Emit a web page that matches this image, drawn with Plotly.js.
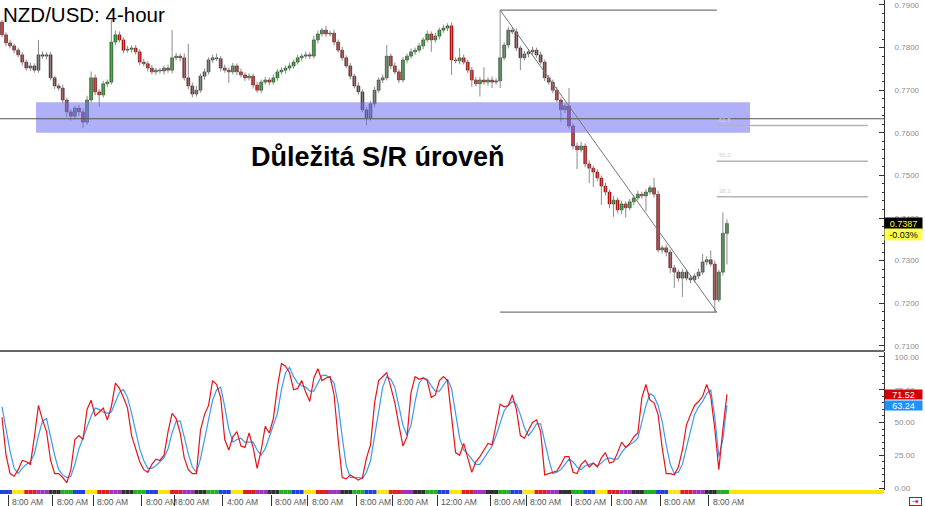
<!DOCTYPE html>
<html><head><meta charset="utf-8">
<script src="https://cdn.plot.ly/plotly-3.0.1.min.js"></script>
<style>html,body{margin:0;padding:0;background:#fff;}#chart{width:925px;height:506px;}</style>
</head><body><div id="chart"></div>
<script>
// ---------------- DATA ----------------
const titleText = 'NZD/USD: 4-hour';
const noteText = 'Důležitá S/R úroveň';
const firstOpen = 0.7860;
const closes = [
0.7830,0.7811,0.7804,0.7794,0.7783,0.7766,0.7752,0.7757,0.7747,0.7783,
0.7780,0.7783,0.7729,0.7710,0.7705,0.7677,0.7649,0.7639,0.7658,0.7649,
0.7625,0.7677,0.7729,0.7696,0.7689,0.7715,0.7719,0.7813,0.7830,0.7818,
0.7794,0.7796,0.7799,0.7790,0.7766,0.7762,0.7752,0.7743,0.7747,0.7745,
0.7752,0.7747,0.7776,0.7780,0.7776,0.7729,0.7710,0.7691,0.7700,0.7733,
0.7743,0.7771,0.7776,0.7774,0.7752,0.7747,0.7743,0.7757,0.7743,0.7736,
0.7729,0.7733,0.7712,0.7700,0.7719,0.7724,0.7719,0.7729,0.7743,0.7747,
0.7752,0.7757,0.7766,0.7776,0.7780,0.7783,0.7780,0.7818,0.7832,0.7841,
0.7832,0.7834,0.7813,0.7794,0.7776,0.7757,0.7733,0.7710,0.7696,0.7654,
0.7635,0.7668,0.7700,0.7724,0.7729,0.7780,0.7757,0.7743,0.7724,0.7771,
0.7780,0.7790,0.7794,0.7804,0.7818,0.7832,0.7818,0.7827,0.7841,0.7846,
0.7851,0.7771,0.7769,0.7776,0.7766,0.7747,0.7724,0.7715,0.7724,0.7719,
0.7724,0.7719,0.7722,0.7776,0.7806,0.7841,0.7837,0.7799,0.7776,0.7785,
0.7790,0.7794,0.7783,0.7766,0.7729,0.7719,0.7700,0.7677,0.7654,0.7663,
0.7616,0.7569,0.7560,0.7569,0.7527,0.7517,0.7508,0.7494,0.7475,0.7461,
0.7433,0.7442,0.7419,0.7433,0.7424,0.7438,0.7447,0.7456,0.7452,0.7461,
0.7471,0.7456,0.7325,0.7330,0.7320,0.7283,0.7273,0.7259,0.7273,0.7259,
0.7255,0.7264,0.7273,0.7297,0.7302,0.7292,0.7208,0.7273,0.7364,0.7387
];
// wick lengths in pips above the body top / below the body bottom
const upWickPips = [
5,6,8,5,6,7,6,8,6,35,
8,6,7,5,6,8,6,7,6,8,
8,10,15,8,6,7,6,52,10,8,
6,8,6,7,6,8,6,7,6,5,
6,8,65,8,6,10,80,8,10,6,
8,6,7,10,6,8,6,7,6,8,
6,7,6,8,6,7,6,8,6,7,
6,8,6,7,6,8,6,10,8,6,
10,6,8,6,8,6,7,6,8,6,
7,6,8,6,8,26,6,8,6,7,
6,8,6,7,6,8,6,8,6,8,
6,8,6,23,8,6,8,6,7,30,
6,8,6,112,6,8,6,8,6,8,
6,8,6,8,6,7,6,8,6,6,
42,6,8,10,6,8,6,7,6,8,
6,10,6,8,6,7,6,8,6,7,
6,23,8,6,8,6,7,6,8,6,
7,6,8,19,8,22,8,6,49,10
];
const downWickPips = [
6,8,6,7,6,8,6,7,6,6,
6,8,6,7,6,8,12,10,8,10,
14,6,6,8,28,6,8,6,8,6,
7,6,8,6,7,6,8,6,7,6,
8,6,7,6,8,6,8,8,6,6,
8,6,7,6,8,6,26,6,8,6,
7,6,8,6,7,6,8,6,7,6,
8,6,7,6,8,6,7,6,8,6,
7,6,8,6,7,6,8,6,7,6,
17,6,8,6,7,6,8,6,7,6,
8,6,7,6,8,6,28,6,8,6,
7,35,6,8,6,7,16,6,30,6,
8,14,6,17,6,8,6,7,29,6,
8,6,7,6,8,6,7,6,28,8,
6,8,45,6,8,35,35,8,44,8,
10,30,8,10,23,6,8,6,7,36,
6,8,6,8,10,12,37,8,44,6,
8,6,7,6,8,6,29,6,8,73
];
const stochMain = [
54,25,11,9,14,21,20,18,39,63,
52,43,21,11,11,8,4,14,37,40,
37,60,67,55,58,61,52,62,80,76,
69,61,40,29,20,14,12,18,22,21,
25,43,57,53,42,23,14,11,11,44,
56,63,82,79,69,37,29,39,43,32,
31,42,31,15,29,47,42,53,77,95,
93,88,75,76,82,73,66,84,91,82,
84,85,71,37,8,7,10,8,6,8,
23,33,65,82,85,88,77,65,48,32,
39,73,85,83,84,82,69,71,82,85,
82,52,27,25,34,23,12,20,24,29,
34,33,48,64,62,63,71,60,40,38,
44,50,52,43,10,11,12,13,18,24,
24,12,11,18,21,16,19,16,23,27,
19,20,27,35,31,34,39,42,69,79,
67,65,56,31,11,11,10,16,29,48,
56,63,66,70,79,70,45,14,45,71.52
];
const stochSignal = [
62,45,28,15,11,15,18,20,26,40,
51,53,39,25,14,10,8,9,18,30,
38,46,55,61,60,58,57,58,65,73,
75,69,57,43,30,21,15,15,17,20,
23,30,42,51,51,39,26,16,12,22,
37,54,67,75,77,62,45,35,37,38,
35,35,35,29,25,30,39,47,57,75,
88,92,85,80,78,77,74,74,80,86,
86,84,80,64,39,17,8,8,8,7,
12,21,40,60,77,85,83,77,63,48,
40,48,66,80,84,83,78,74,74,79,
83,76,57,38,29,26,22,18,18,23,
28,32,40,50,59,63,66,64,56,46,
40,44,49,49,35,22,11,12,14,18,
22,20,16,14,17,18,19,17,19,22,
23,22,22,27,31,33,35,38,50,63,
72,70,63,51,33,18,11,12,18,31,
44,56,62,66,72,75,54,24,37,63.24
];
const lastPrice = 0.7387, lastChange = '-0.03%';
const lastMain = 71.52, lastSignal = 63.24;
const srLevel = 0.7633;
const srZoneLow = 0.7600, srZoneHigh = 0.7672;
const srZoneFrom = 8.4, srZoneTo = 184.7;       // candle indices
const fibHighIdx = 123, fibLowIdx = 176, fibExtendTo = 213.8;
const fibRatios = [0.382, 0.5, 0.618];
const fibLabels = ['38.2', '50.0', '61.8'];
const timeTickCandles = [2,13,23,35,43,55,67,76,88,97,108,121,130,141,151,163,175];
const timeTickLabels = ['8:00 AM','8:00 AM','8:00 AM','8:00 AM','8:00 AM','4:00 AM','8:00 AM','8:00 AM','8:00 AM','8:00 AM','12:00 AM','8:00 AM','8:00 AM','8:00 AM','8:00 AM','8:00 AM','8:00 AM'];
const stripPalette = ['#2040e0','#ffe600','#e02020','#a030c0','#303030','#20b020'];

// ---------------- BUILD ----------------
const N = closes.length;
const idx = closes.map((_, i) => i);
const opens = closes.map((c, i) => i === 0 ? firstOpen : closes[i - 1]);
const highs = closes.map((c, i) => Math.max(opens[i], c) + upWickPips[i] * 0.0001);
const lows = closes.map((c, i) => Math.min(opens[i], c) - downWickPips[i] * 0.0001);

const wx = [], wy = [];
for (let i = 0; i < N; i++) { wx.push(i, i, null); wy.push(lows[i], highs[i], null); }

const bodyBase = closes.map((c, i) => Math.min(opens[i], c));
const bodyH = closes.map((c, i) => Math.max(Math.abs(c - opens[i]), 0.00012));
const bodyCol = closes.map((c, i) => c >= opens[i] ? '#2a9a2a' : '#ee0000');

const fibHigh = highs[fibHighIdx], fibLow = lows[fibLowIdx];

const traces = [
  {type:'scatter', mode:'lines', x:wx, y:wy, xaxis:'x', yaxis:'y', line:{color:'#8a8a8a', width:1}, hoverinfo:'skip', connectgaps:false},
  {type:'bar', x:idx, y:bodyH, base:bodyBase, xaxis:'x', yaxis:'y', width:0.72,
   marker:{color:bodyCol, line:{color:'#1a1a1a', width:0.5}}, hoverinfo:'skip'},
  {type:'scatter', mode:'lines', x:idx, y:stochSignal, xaxis:'x', yaxis:'y2', line:{color:'#3a9af5', width:1.2}, hoverinfo:'skip'},
  {type:'scatter', mode:'lines', x:idx, y:stochMain, xaxis:'x', yaxis:'y2', line:{color:'#e8141b', width:1.2}, hoverinfo:'skip'}
];

const shapes = [];
shapes.push({type:'rect', xref:'x', yref:'y', x0:srZoneFrom, x1:srZoneTo, y0:srZoneLow, y1:srZoneHigh,
  fillcolor:'rgba(111,111,242,0.55)', line:{width:0}, layer:'above'});
shapes.push({type:'line', xref:'paper', yref:'y', x0:0, x1:1, y0:srLevel, y1:srLevel, line:{color:'#555', width:1.2}, layer:'above'});
shapes.push({type:'line', xref:'x', yref:'y', x0:fibHighIdx, x1:fibLowIdx + 0.5, y0:fibHigh, y1:fibHigh, line:{color:'#777', width:1.3}});
shapes.push({type:'line', xref:'x', yref:'y', x0:fibHighIdx, x1:fibLowIdx + 0.5, y0:fibLow, y1:fibLow, line:{color:'#777', width:1.3}});
shapes.push({type:'line', xref:'x', yref:'y', x0:fibHighIdx, x1:fibLowIdx + 0.5, y0:fibHigh, y1:fibLow, line:{color:'#777', width:1}, layer:'above'});
fibRatios.forEach(r => {
  const lv = fibLow + (fibHigh - fibLow) * r;
  shapes.push({type:'line', xref:'x', yref:'y', x0:fibLowIdx + 0.5, x1:fibExtendTo, y0:lv, y1:lv, line:{color:'#b4b4b4', width:1.5}});
});
const priceDomain = [1 - 351/494, 1];
const stochDomain = [4/494, 1 - 352/494];
shapes.push({type:'line', xref:'paper', yref:'paper', x0:0, x1:1, y0:priceDomain[0], y1:priceDomain[0], line:{color:'#666', width:2}});
for (let i = 0; i < N; i++) {
  shapes.push({type:'rect', xref:'x', yref:'paper', x0:i - 0.5, x1:i + 0.5, y0:0, y1:stochDomain[0],
    fillcolor:stripPalette[Math.floor(i / 3) % stripPalette.length], line:{width:0}});
}
shapes.push({type:'rect', xref:'x', yref:'paper', x0:N - 0.5, x1:220, y0:0, y1:stochDomain[0], fillcolor:'#ffe600', line:{width:0}});

const F = 'Liberation Sans, Arial, sans-serif';
const annotations = [];
annotations.push({xref:'paper', yref:'paper', x:0, y:1, xanchor:'left', yanchor:'top', xshift:1, yshift:-1,
  text:titleText, showarrow:false, font:{family:F, size:20.5, color:'#000'}});
annotations.push({xref:'paper', yref:'paper', x:378/884, y:1 - 157/494, xanchor:'center', yanchor:'middle',
  text:'<b>' + noteText + '</b>', showarrow:false, font:{family:F, size:27, color:'#000'}});
fibRatios.forEach((r, k) => {
  const lv = fibLow + (fibHigh - fibLow) * r;
  annotations.push({xref:'x', yref:'y', x:fibLowIdx + 0.6, y:lv, xanchor:'left', yanchor:'bottom', yshift:1,
    text:fibLabels[k], showarrow:false, font:{family:F, size:6, color:'#cfcfcf'}});
});
timeTickCandles.forEach((c, k) => {
  annotations.push({xref:'x', yref:'paper', x:c, y:0, xanchor:'left', yanchor:'top', xshift:0, yshift:-1,
    text:timeTickLabels[k], showarrow:false, font:{family:F, size:8.5, color:'#555'}});
});
annotations.push({xref:'paper', yref:'y', x:1, y:lastPrice, xanchor:'left', yanchor:'middle', text:lastPrice.toFixed(4),
  showarrow:false, bgcolor:'#000', width:36, height:10, borderpad:0.5, font:{family:F, size:9, color:'#ffff00'}});
annotations.push({xref:'paper', yref:'y', x:1, y:lastPrice, yshift:-11, xanchor:'left', yanchor:'middle', text:lastChange,
  showarrow:false, bgcolor:'#ffff50', width:36, height:10, borderpad:0.5, font:{family:F, size:9, color:'#000'}});
annotations.push({xref:'paper', yref:'y2', x:1, y:lastMain, xanchor:'left', yanchor:'middle', text:lastMain.toFixed(2),
  showarrow:false, bgcolor:'#d40000', width:36, height:8, borderpad:0.5, font:{family:F, size:9, color:'#fff'}});
annotations.push({xref:'paper', yref:'y2', x:1, y:lastSignal, xanchor:'left', yanchor:'middle', text:lastSignal.toFixed(2),
  showarrow:false, bgcolor:'#1e90ff', width:36, height:8, borderpad:0.5, font:{family:F, size:9, color:'#fff'}});
annotations.push({xref:'paper', yref:'paper', x:1, y:0, xanchor:'left', yanchor:'top', xshift:25, yshift:-3, text:'⇥',
  showarrow:false, bgcolor:'#fff', bordercolor:'#e00000', borderwidth:1, borderpad:0, width:11, height:7, font:{family:'DejaVu Sans', size:8, color:'#e00000'}});

const yCommon = {side:'right', anchor:'x', showgrid:false, zeroline:false, showline:true, linecolor:'#333', linewidth:1,
  ticks:'inside', ticklen:5, tickwidth:1, tickcolor:'#333', tickfont:{family:F, size:8, color:'#8c8c8c'}, ticklabelstandoff:8, fixedrange:true};

const layout = {
  width:925, height:506, margin:{l:0, r:41, t:0, b:12, pad:0},
  paper_bgcolor:'#fff', plot_bgcolor:'#fff', showlegend:false, bargap:0,
  font:{family:F, size:8, color:'#8c8c8c'},
  xaxis:{range:[-0.494, 217.78], anchor:'free', position:0, showgrid:false, zeroline:false, showline:false,
    ticks:'outside', ticklen:12, tickwidth:1, tickcolor:'#333', tickmode:'array', tickvals:timeTickCandles.map(c => c - 0.5),
    showticklabels:false, fixedrange:true},
  yaxis:Object.assign({}, yCommon, {domain:priceDomain, range:[0.70879, 0.79117], tick0:0.71, dtick:0.01, tickformat:'.4f',
    minor:{ticks:'inside', ticklen:2, dtick:0.002, tickcolor:'#333', showgrid:false}}),
  yaxis2:Object.assign({}, yCommon, {domain:stochDomain, range:[-1.53, 103.8], tick0:0, dtick:25, tickformat:'.2f',
    minor:{ticks:'inside', ticklen:2, dtick:5, tickcolor:'#333', showgrid:false}}),
  shapes:shapes, annotations:annotations
};

Plotly.newPlot('chart', traces, layout, {staticPlot:true, displayModeBar:false});
</script>
</body></html>
